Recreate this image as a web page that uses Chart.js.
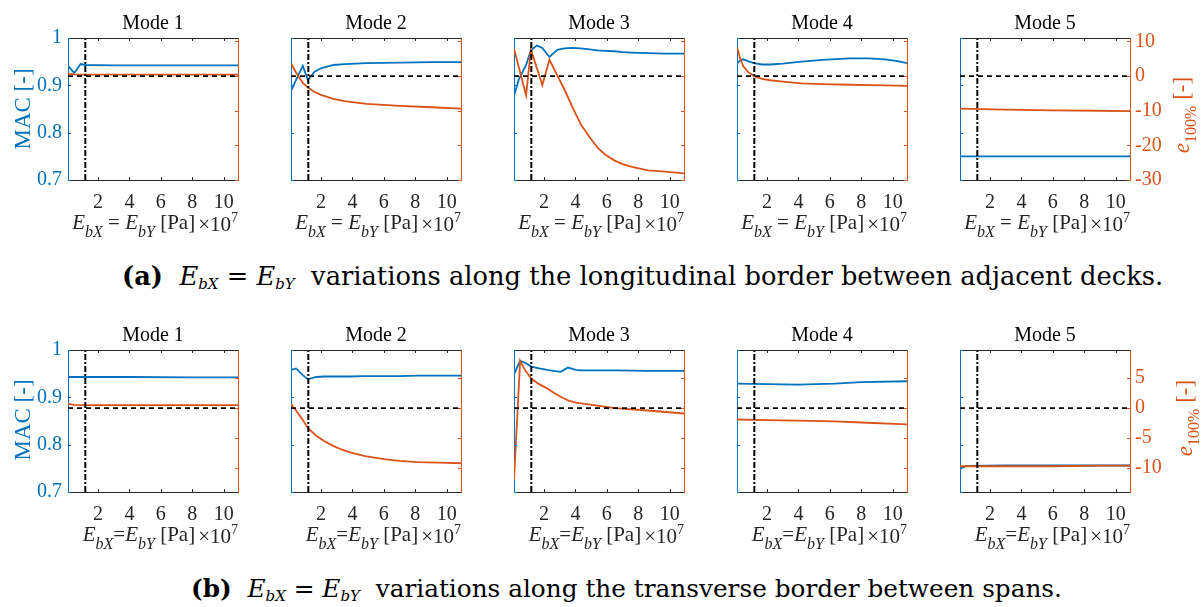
<!DOCTYPE html>
<html>
<head>
<meta charset="utf-8">
<title>MAC and e100% against EbX = EbY</title>
<script src="https://cdn.jsdelivr.net/npm/chart.js@4.4.1/dist/chart.umd.min.js"></script>
<style>
  body { margin: 0; background: #fff; }
  #fig { position: relative; width: 1204px; height: 607px; overflow: hidden; font-family: "Liberation Serif", serif; color: #000; }
  .panel { position: absolute; }
  .txt { position: absolute; white-space: nowrap; line-height: 1; }
  .title { font-size: 20px; text-align: center; width: 170px; }
  .xlab { font-size: 21px; color: #262626; }
  .xlab .sub { font-size: 16px; vertical-align: -8px; line-height: 0; font-style: italic; }
  .xlab .ex { vertical-align: -2px; margin-left: 3px; }
  .xlab sup { font-size: 14px; vertical-align: 9px; line-height: 0; }
  .ylab { font-size: 23px; transform: translate(-50%, -50%) rotate(-90deg); }
  .ylab .sub { font-size: 16px; vertical-align: -7px; line-height: 0; }
  .caption { font-family: "DejaVu Serif", serif; font-size: 22px; color: #000; }
  .caption .sub { font-size: 15px; vertical-align: -4px; line-height: 0; }
</style>
</head>
<body>
<div id="fig"></div>
<script>
// axis limits and ticks
const X_MIN = 0.1, X_MAX = 10.9;
const REF_X = 1.2;          // dash-dot reference line
const xTicks = [2, 4, 6, 8, 10];
const macTicks = [0.7, 0.8, 0.9, 1];
const errTicksA = [-30, -20, -10, 0, 10];
const errTicksB = [-10, -5, 0, 5];
const modeNames = ['Mode 1', 'Mode 2', 'Mode 3', 'Mode 4', 'Mode 5'];

// (a) longitudinal border between adjacent decks
const a1X   = [0.1, 0.5, 0.9, 1.2, 3, 6, 9, 10.9];
const a1Mac = [0.941, 0.926, 0.945, 0.943, 0.942, 0.942, 0.942, 0.942];
const a1Err = [0.7, 0.5, 0.45, 0.45, 0.45, 0.45, 0.45, 0.45];

const a2X   = [0.1, 0.4, 0.85, 1.17, 1.6, 2.0, 2.8, 3.5, 4.9, 7, 9, 10.9];
const a2Mac = [0.888, 0.910, 0.941, 0.911, 0.929, 0.936, 0.943, 0.945, 0.947, 0.948, 0.949, 0.949];
const a2Err = [3.7, 1.2, -2.0, -3.3, -4.6, -5.4, -6.6, -7.2, -8.0, -8.6, -9.0, -9.4];

const a3X   = [0.1, 0.4, 0.87, 1.17, 1.56, 1.9, 2.35, 2.85, 3.3, 3.8, 4.35, 4.9, 5.4, 5.9, 6.5, 7.0, 7.6, 8.6, 9.7, 10.9];
const a3Mac = [0.878, 0.912, 0.943, 0.974, 0.984, 0.979, 0.960, 0.975, 0.978, 0.979, 0.978, 0.976, 0.974, 0.973, 0.972, 0.970, 0.969, 0.968, 0.967, 0.967];
const a3Err = [7.9, 2.6, -5.6, 7.7, 2.2, -2.6, 4.7, 0.2, -3.8, -8.8, -14, -17.6, -20.6, -22.7, -24.4, -25.4, -26.2, -27.2, -27.6, -28.1];

const a4X   = [0.1, 0.3, 0.5, 0.8, 1.17, 1.7, 2.2, 3, 4.2, 5.5, 7.3, 8.5, 9.5, 10.3, 10.9];
const a4Mac = [0.945, 0.953, 0.955, 0.951, 0.947, 0.944, 0.944, 0.946, 0.950, 0.954, 0.957, 0.957, 0.955, 0.951, 0.947];
const a4Err = [8.4, 5.1, 2.8, 1.2, 0, -0.8, -1.2, -1.6, -2.1, -2.3, -2.5, -2.6, -2.7, -2.75, -2.8];

const a5X   = [0.1, 3, 6, 9, 10.9];
const a5Mac = [0.750, 0.750, 0.750, 0.750, 0.750];
const a5Err = [-9.4, -9.7, -9.9, -10.0, -10.1];

// (b) transverse border between spans
const b1X   = [0.1, 0.5, 1.2, 4, 8, 10.9];
const b1Mac = [0.943, 0.943, 0.943, 0.943, 0.942, 0.942];
const b1Err = [0.7, 0.55, 0.5, 0.5, 0.5, 0.5];

const b2X   = [0.1, 0.42, 0.85, 1.17, 1.7, 2.2, 2.78, 3.3, 3.85, 4.8, 6.0, 7, 8.1, 9.5, 10.9];
const b2Mac = [0.958, 0.961, 0.947, 0.938, 0.943, 0.944, 0.944, 0.944, 0.944, 0.945, 0.945, 0.945, 0.946, 0.946, 0.946];
const b2Err = [0.66, -0.4, -2.0, -3.3, -4.6, -5.5, -6.3, -6.9, -7.4, -8.0, -8.5, -8.8, -9.0, -9.1, -9.2];

const b3X   = [0.1, 0.49, 0.81, 1.2, 1.7, 2.2, 2.6, 3.06, 3.28, 3.53, 4.03, 4.35, 5.4, 6.5, 8.6, 10.9];
const b3Mac = [0.949, 0.977, 0.973, 0.965, 0.961, 0.958, 0.956, 0.954, 0.958, 0.963, 0.958, 0.957, 0.957, 0.957, 0.956, 0.956];
const b3Err = [-12.0, 7.9, 6.3, 4.9, 4.0, 3.3, 2.6, 1.9, 1.6, 1.3, 0.9, 0.8, 0.4, 0, -0.4, -0.9];

const b4X   = [0.1, 2, 4, 6.3, 8, 10.9];
const b4Mac = [0.929, 0.928, 0.927, 0.929, 0.932, 0.934];
const b4Err = [-1.9, -2.0, -2.1, -2.2, -2.4, -2.7];

const b5X   = [0.1, 0.5, 3, 6, 9, 10.9];
const b5Mac = [0.749, 0.755, 0.756, 0.756, 0.756, 0.756];
const b5Err = [-9.7, -9.7, -9.7, -9.7, -9.6, -9.6];

const BLUE = '#0072BD', ORANGE = '#D95319', AXIS = '#262626';
const PLOT_W = 170, PLOT_H = 146;
const COL_LEFT = [68, 291, 514, 737, 960];
const ROW_TOP = [34, 346];
const M_L = 60, M_R = 60, M_T = 14, M_B = 40;

const errAxis = [
    { min: -30, max: 11, ticks: errTicksA },
    { min: -14, max: 9.7, ticks: errTicksB }
];

const panels = [
    { row: 0, col: 0, x: a1X, mac: a1Mac, err: a1Err },
    { row: 0, col: 1, x: a2X, mac: a2Mac, err: a2Err },
    { row: 0, col: 2, x: a3X, mac: a3Mac, err: a3Err },
    { row: 0, col: 3, x: a4X, mac: a4Mac, err: a4Err },
    { row: 0, col: 4, x: a5X, mac: a5Mac, err: a5Err },
    { row: 1, col: 0, x: b1X, mac: b1Mac, err: b1Err },
    { row: 1, col: 1, x: b2X, mac: b2Mac, err: b2Err },
    { row: 1, col: 2, x: b3X, mac: b3Mac, err: b3Err },
    { row: 1, col: 3, x: b4X, mac: b4Mac, err: b4Err },
    { row: 1, col: 4, x: b5X, mac: b5Mac, err: b5Err }
];

Chart.defaults.font.family = 'Liberation Serif';
Chart.defaults.font.size = 20;

const fig = document.getElementById('fig');

// top border and inward tick marks, like a matlab box
const frame = {
    id: 'frame',
    afterDatasetsDraw(chart) {
        const { ctx, chartArea: a, scales } = chart;
        const len = 3;
        ctx.save();
        ctx.lineWidth = 1;
        ctx.strokeStyle = AXIS;
        ctx.beginPath();
        ctx.moveTo(a.left, Math.round(a.top) + 0.5);
        ctx.lineTo(a.right, Math.round(a.top) + 0.5);
        scales.x.ticks.forEach(t => {
            const p = Math.round(scales.x.getPixelForValue(t.value)) + 0.5;
            ctx.moveTo(p, a.bottom); ctx.lineTo(p, a.bottom - len);
            ctx.moveTo(p, a.top); ctx.lineTo(p, a.top + len);
        });
        ctx.stroke();
        ctx.strokeStyle = BLUE;
        ctx.beginPath();
        scales.yMac.ticks.forEach(t => {
            const p = Math.round(scales.yMac.getPixelForValue(t.value)) + 0.5;
            ctx.moveTo(a.left, p); ctx.lineTo(a.left + len, p);
        });
        ctx.stroke();
        ctx.strokeStyle = ORANGE;
        ctx.beginPath();
        scales.yErr.ticks.forEach(t => {
            const p = Math.round(scales.yErr.getPixelForValue(t.value)) + 0.5;
            ctx.moveTo(a.right, p); ctx.lineTo(a.right - len, p);
        });
        ctx.stroke();
        ctx.restore();
    }
};

function addText(html, cls, left, top, style) {
    const d = document.createElement('div');
    d.className = 'txt ' + cls;
    d.innerHTML = html;
    d.style.left = left + 'px';
    d.style.top = top + 'px';
    if (style) Object.assign(d.style, style);
    fig.appendChild(d);
    return d;
}

function pts(xs, ys) {
    return xs.map((x, i) => ({ x: x, y: ys[i] }));
}

panels.forEach(p => {
    const left = COL_LEFT[p.col], top = ROW_TOP[p.row];
    const ea = errAxis[p.row];
    const div = document.createElement('div');
    div.className = 'panel';
    div.style.left = (left - M_L) + 'px';
    div.style.top = (top - M_T) + 'px';
    const canvas = document.createElement('canvas');
    canvas.width = M_L + PLOT_W + M_R;
    canvas.height = M_T + PLOT_H + M_B;
    canvas.style.width = canvas.width + 'px';
    canvas.style.height = canvas.height + 'px';
    div.appendChild(canvas);
    fig.appendChild(div);

    new Chart(canvas, {
        type: 'line',
        data: {
            datasets: [
                {   // vertical dash-dot line
                    data: [{ x: REF_X, y: 0.7 }, { x: REF_X, y: 1 }],
                    yAxisID: 'yMac',
                    borderColor: '#000',
                    borderWidth: 2,
                    borderDash: [6, 2, 2, 2]
                },
                {   // zero line of the error axis
                    data: [{ x: X_MIN, y: 0 }, { x: X_MAX, y: 0 }],
                    yAxisID: 'yErr',
                    borderColor: '#000',
                    borderWidth: 1.6,
                    borderDash: [5, 4]
                },
                {
                    label: 'e100%',
                    data: pts(p.x, p.err),
                    yAxisID: 'yErr',
                    borderColor: ORANGE,
                    borderWidth: 1.8
                },
                {
                    label: 'MAC',
                    data: pts(p.x, p.mac),
                    yAxisID: 'yMac',
                    borderColor: BLUE,
                    borderWidth: 1.8
                }
            ]
        },
        options: {
            responsive: false,
            animation: false,
            devicePixelRatio: 1,
            events: [],
            layout: { padding: { top: M_T, left: 0, right: 0, bottom: 0 } },
            elements: { point: { radius: 0 }, line: { tension: 0 } },
            plugins: { legend: { display: false }, tooltip: { enabled: false } },
            scales: {
                x: {
                    type: 'linear',
                    position: 'bottom',
                    min: X_MIN,
                    max: X_MAX,
                    grid: { display: false, drawTicks: false },
                    border: { color: AXIS, width: 1 },
                    ticks: { color: AXIS, padding: 11, autoSkip: false, maxRotation: 0, minRotation: 0 },
                    afterBuildTicks: s => { s.ticks = xTicks.map(v => ({ value: v })); },
                    afterFit: s => { s.height = M_B; }
                },
                yMac: {
                    type: 'linear',
                    position: 'left',
                    min: 0.7,
                    max: 1,
                    grid: { display: false, drawTicks: false },
                    border: { color: BLUE, width: 1 },
                    ticks: {
                        color: BLUE,
                        padding: 6,
                        callback: v => p.col === 0 ? (v === 1 ? '1' : v.toFixed(1)) : ''
                    },
                    afterBuildTicks: s => { s.ticks = macTicks.map(v => ({ value: v })); },
                    afterFit: s => { s.width = M_L; }
                },
                yErr: {
                    type: 'linear',
                    position: 'right',
                    min: ea.min,
                    max: ea.max,
                    grid: { display: false, drawTicks: false },
                    border: { color: ORANGE, width: 1 },
                    ticks: {
                        color: ORANGE,
                        padding: 5,
                        callback: v => p.col === 4 ? String(v) : ''
                    },
                    afterBuildTicks: s => { s.ticks = ea.ticks.map(v => ({ value: v })); },
                    afterFit: s => { s.width = M_R; }
                }
            }
        },
        plugins: [frame]
    });

    // panel title and x label
    addText(modeNames[p.col], 'title', left, top - 22.4);
    const eq = p.row === 0 ? ' = ' : '=';
    const xl = addText('<i>E</i><span class="sub">bX</span>' + eq + '<i>E</i><span class="sub">bY</span> [Pa]' +
        '<span class="ex">&times;10<sup>7</sup></span>', 'xlab', 0, top + PLOT_H + 50 - 17.6);
    xl.style.left = 'auto';
    xl.style.right = (1204 - (left + PLOT_W)) + 'px';
});

// y axis titles
addText('MAC [-]', 'ylab', 22, 109, { color: BLUE });
addText('MAC [-]', 'ylab', 22, 420, { color: BLUE });
addText('<i>e</i><span class="sub">100%</span> [-]', 'ylab', 1181, 115, { color: ORANGE });
addText('<i>e</i><span class="sub">100%</span> [-]', 'ylab', 1184, 418, { color: ORANGE });

// sub-figure captions
const capA = addText('<b>(a)</b>&nbsp;&nbsp;<i>E</i><span class="sub"><i>bX</i></span> = <i>E</i><span class="sub"><i>bY</i></span>&nbsp; variations along the longitudinal border between adjacent decks.', 'caption', 122, 264);
const capB = addText('<b>(b)</b>&nbsp;&nbsp;<i>E</i><span class="sub"><i>bX</i></span> = <i>E</i><span class="sub"><i>bY</i></span>&nbsp; variations along the transverse border between spans.', 'caption', 191, 577);

// scale the caption font so the line spans the same width as in the figure
function fitWidth(el, target) {
    const w = el.getBoundingClientRect().width;
    const size = parseFloat(getComputedStyle(el).fontSize);
    el.style.fontSize = (size * target / w).toFixed(2) + 'px';
}
fitWidth(capA, 1048);
fitWidth(capB, 876);
</script>
</body>
</html>
